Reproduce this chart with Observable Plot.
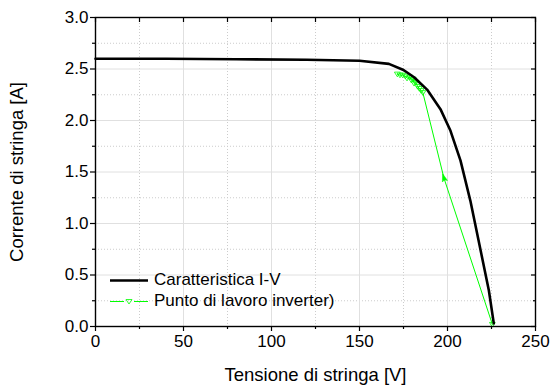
<!DOCTYPE html>
<html><head><meta charset="utf-8">
<script src="https://cdn.jsdelivr.net/npm/d3@7"></script>
<script src="https://cdn.jsdelivr.net/npm/@observablehq/plot@0.6"></script>
<style>
body{margin:0;background:#fff;font-family:"Liberation Sans",Arial,sans-serif;}
#wrap{position:relative;width:553px;height:390px;}
.leg{position:absolute;left:0;top:0;font-size:17px;color:#000;}
.row{position:absolute;white-space:nowrap;height:20px;line-height:20px;}
.row svg{position:absolute;left:0;top:0;}
.row span{position:absolute;left:46px;top:0;}
</style></head>
<body><div id="wrap"></div>
<script>
// I-V characteristic
const ivV = [0, 40, 80, 120, 150, 166.7, 175, 181, 188.4, 196, 201.7, 207.4, 213, 218.8, 223.5, 226.3];
const ivI = [2.60, 2.60, 2.595, 2.59, 2.58, 2.55, 2.49, 2.42, 2.30, 2.11, 1.90, 1.61, 1.22, 0.74, 0.35, 0.03];
// inverter operating points
const opV = [171.5, 173, 174.5, 176, 177, 178.5, 179.5, 180.5, 181, 182, 183, 184, 185, 186, 198, 225.5];
const opI = [2.45, 2.44, 2.44, 2.43, 2.41, 2.42, 2.39, 2.40, 2.36, 2.37, 2.33, 2.31, 2.29, 2.27, 1.44, 0.02];
const xMajor = [0, 50, 100, 150, 200, 250];
const xMinor = [25, 75, 125, 175, 225];
const yMajor = [0, 0.5, 1.0, 1.5, 2.0, 2.5, 3.0];
const yMinor = [0.25, 0.75, 1.25, 1.75, 2.25, 2.75];
const seriesNames = ["Caratteristica I-V", "Punto di lavoro inverter)"];

const iv = ivV.map((v, i) => ({v, i: ivI[i]}));
const op = opV.map((v, i) => ({v, i: opI[i], k: i}));
const green = "#00ff00";
const triDown = {draw(ctx, size){ const s = Math.sqrt(size) * 0.55; ctx.moveTo(-s, -s*0.7); ctx.lineTo(s, -s*0.7); ctx.lineTo(0, s*0.9); ctx.closePath(); }};
const arrowUp = {draw(ctx, size){ const s = Math.sqrt(size) * 0.5; ctx.moveTo(0, -s*1.3); ctx.lineTo(s*0.75, s*0.9); ctx.lineTo(0, s*0.5); ctx.lineTo(-s*0.75, s*0.9); ctx.closePath(); }};

const font = "Liberation Sans, Arial, sans-serif";
const chart = Plot.plot({
  width: 553, height: 390,
  marginLeft: 95, marginRight: 18, marginTop: 17, marginBottom: 64,
  style: {fontFamily: font, fontSize: "17px", color: "#000", background: "#fff"},
  x: {domain: [0, 250]},
  y: {domain: [0, 3]},
  marks: [
    Plot.gridX(xMinor, {stroke: "#ccc", strokeOpacity: 1, strokeDasharray: "1,2"}),
    Plot.gridY(yMinor, {stroke: "#ccc", strokeOpacity: 1, strokeDasharray: "1,2"}),
    Plot.gridX(xMajor, {stroke: "#e0e0e0", strokeOpacity: 1}),
    Plot.gridY(yMajor, {stroke: "#e0e0e0", strokeOpacity: 1}),
    Plot.axisX(xMajor, {anchor: "bottom", tickSize: 5, tickPadding: 3, tickFormat: d => String(d), label: "Tensione di stringa [V]", labelAnchor: "center", labelArrow: "none", labelOffset: 54, fontSize: 17, strokeWidth: 1.2}),
    Plot.axisX(xMinor, {anchor: "bottom", tickSize: 3, tickFormat: () => "", label: null, strokeWidth: 1.2}),
    Plot.axisY(yMajor, {anchor: "left", tickSize: 5, tickPadding: 2, tickFormat: d3.format(".1f"), label: "Corrente di stringa [A]", labelAnchor: "center", labelArrow: "none", labelOffset: 86, fontSize: 17, strokeWidth: 1.2}),
    Plot.axisY(yMinor, {anchor: "left", tickSize: 3, tickFormat: () => "", label: null, strokeWidth: 1.2}),
    Plot.axisX(xMajor.concat(xMinor), {anchor: "top", tickSize: 4, inset: 4, tickFormat: () => "", label: null, strokeWidth: 1.2}),
    Plot.axisY(yMajor, {anchor: "right", tickSize: 5, inset: 5, tickFormat: () => "", label: null, strokeWidth: 1.2}),
    Plot.axisY(yMinor, {anchor: "right", tickSize: 3, inset: 3, tickFormat: () => "", label: null, strokeWidth: 1.2}),
    Plot.line(op, {x: "v", y: "i", stroke: green, strokeWidth: 1}),
    Plot.dot(op.filter(d => d.k !== 14), {x: "v", y: "i", symbol: triDown, r: 3, stroke: green, strokeWidth: 0.8, fill: "none"}),
    Plot.dot(op.filter(d => d.k === 14), {x: "v", y: "i", symbol: arrowUp, r: 4, fill: green, stroke: green, strokeWidth: 0.5, rotate: -17}),
    Plot.line(iv, {x: "v", y: "i", stroke: "#000", strokeWidth: 2.6}),
    Plot.frame({stroke: "#000", strokeWidth: 1.4})
  ]
});
// axis titles slightly larger than tick labels
chart.querySelectorAll('g[aria-label="x-axis label"] text, g[aria-label="y-axis label"] text').forEach(t => t.setAttribute("font-size", "18.5"));
const wrap = document.getElementById("wrap");
wrap.appendChild(chart);
const leg = document.createElement("div");
leg.className = "leg";
leg.innerHTML = `
<div class="row" style="left:108px;top:270px;"><svg width="42" height="20"><line x1="2" x2="40" y1="10.5" y2="10.5" stroke="#000" stroke-width="2.6"/></svg><span>${seriesNames[0]}</span></div>
<div class="row" style="left:108px;top:291px;"><svg width="42" height="20"><line x1="2" x2="16" y1="10.5" y2="10.5" stroke="${green}" stroke-width="1"/><line x1="26" x2="40" y1="10.5" y2="10.5" stroke="${green}" stroke-width="1"/><path d="M18,8.5 L24,8.5 L21,13 Z" fill="none" stroke="${green}" stroke-width="0.8"/></svg><span>${seriesNames[1]}</span></div>`;
wrap.appendChild(leg);
</script></body></html>
